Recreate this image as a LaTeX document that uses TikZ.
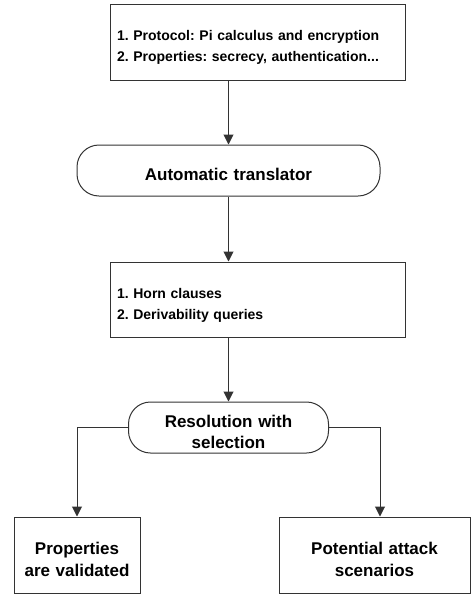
\documentclass[tikz,border=0pt]{standalone}
\usepackage{fontspec}
\setmainfont{Liberation Sans}
\frenchspacing
\usetikzlibrary{arrows.meta, positioning}
\tikzstyle{databox} = [rectangle, draw=black!80, line width=1pt, minimum width=295pt, minimum height=75pt, inner xsep=7pt, inner ysep=0pt, text width=281pt, align=left, font=\fontsize{14}{21}\selectfont\bfseries, execute at begin node={\rule{0pt}{21pt}}]
\tikzstyle{process} = [rectangle, rounded corners=22pt, draw=black!80, line width=1pt, minimum height=51pt, inner sep=0pt, align=center, font=\fontsize{17}{21}\selectfont\bfseries, execute at begin node={\rule{0pt}{21pt}}]
\tikzstyle{result} = [rectangle, draw=black!80, line width=1pt, minimum height=76pt, inner sep=0pt, align=center, font=\fontsize{17}{22}\selectfont\bfseries, execute at begin node={\rule{0pt}{21pt}}]
\tikzstyle{arrow} = [line width=1pt, draw=black!80, -{Triangle[length=10pt,width=10pt]}]

\begin{document}
\begin{tikzpicture}[x=1pt, y=1pt]
    \useasboundingbox (0,0) rectangle (472,-595);

    % Input: protocol and properties
    \node (spec) [databox, minimum height=76pt] at (257.5,-42) {1. Protocol: Pi calculus and encryption\\2. Properties: secrecy, authentication...};

    % Translation to clauses
    \node (trans) [process, minimum width=303pt, text width=283pt, below=64pt of spec, xshift=-29pt] {Automatic translator};
    \node (clauses) [databox, below=65pt of trans, xshift=29pt] {1. Horn clauses\\2. Derivability queries};

    % Resolution and its two outcomes
    \node (resol) [process, minimum width=200pt, text width=180pt, below=64pt of clauses, xshift=-29pt] {Resolution with\\selection};
    \node (valid) [result, minimum width=126pt, text width=120pt, below=63pt of resol, xshift=-151.5pt] {Properties\\are validated};
    \node (attack) [result, minimum width=191pt, text width=180pt, below=63pt of resol, xshift=146pt] {Potential attack\\scenarios};

    % === ARROWS ===
    \draw [arrow] (spec.south -| trans.north) -- (trans.north);
    \draw [arrow] (trans.south) -- (trans.south |- clauses.north);
    \draw [arrow] (clauses.south -| resol.north) -- (resol.north);
    \draw [arrow] (resol.west) -| (valid.north);
    \draw [arrow] (resol.east) -| ([xshift=5.5pt]attack.north);

\end{tikzpicture}
\end{document}
